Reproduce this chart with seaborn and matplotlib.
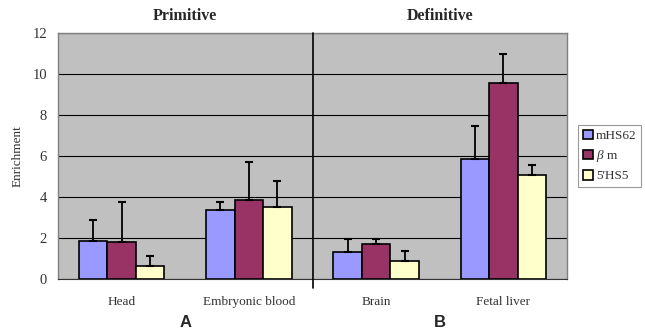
import numpy as np
import pandas as pd
import matplotlib
matplotlib.use("Agg")
import matplotlib.pyplot as plt
import seaborn as sns

tissues = ["Head", "Embryonic blood", "Brain", "Fetal liver"]
probes = ["mHS62", "$\\it{\u03b2}$ m", "5'HS5"]
means = {
    probes[0]: [1.87, 3.37, 1.33, 5.85],
    probes[1]: [1.83, 3.85, 1.69, 9.58],
    probes[2]: [0.65, 3.51, 0.88, 5.10],
}
upper = {
    probes[0]: [2.88, 3.74, 1.94, 7.46],
    probes[1]: [3.77, 5.69, 1.97, 11.00],
    probes[2]: [1.12, 4.80, 1.37, 5.57],
}
colors = ["#9999FF", "#993366", "#FFFFCC"]

rows = []
for p in probes:
    for t, v in zip(tissues, means[p]):
        rows.append({"tissue": t, "probe": p, "value": v})
df = pd.DataFrame(rows)

sns.set_style("white")
plt.rcParams["font.family"] = ["Liberation Serif", "DejaVu Serif"]
plt.rcParams["mathtext.fontset"] = "custom"
plt.rcParams["mathtext.it"] = "Liberation Serif:italic"

fig = plt.figure(figsize=(6.45, 3.35), dpi=100)
ax = fig.add_axes([0.09, 0.167, 0.789, 0.734])
ax.set_facecolor("#C0C0C0")

sns.barplot(data=df, x="tissue", y="value", hue="probe", order=tissues,
            hue_order=probes, palette=colors, errorbar=None, width=0.67,
            saturation=1, edgecolor="black", linewidth=1.2, ax=ax, zorder=3)

for cont, p in zip(ax.containers, probes):
    xs = [b.get_x() + b.get_width() / 2 for b in cont]
    vals = np.array(means[p])
    tops = np.array(upper[p])
    ax.errorbar(xs, vals, yerr=[np.zeros_like(vals), tops - vals], fmt="none",
                ecolor="black", elinewidth=1.3, capsize=3, capthick=1.5, zorder=4)

ax.set_ylim(0, 12)
ax.set_xlim(-0.5, 3.5)
ax.set_yticks(range(0, 13, 2))
ax.yaxis.grid(True, color="black", linewidth=0.8, zorder=0)
ax.set_axisbelow(True)
ax.tick_params(axis="y", length=0, labelsize=10.5, colors="#333333", pad=8)
ax.tick_params(axis="x", length=0, labelsize=9.5, colors="#333333", pad=12)
ax.set_xticks([0.5, 2.5], minor=True)
ax.tick_params(axis="x", which="minor", direction="in", length=3, color="#333333")
ax.set_xlabel("")
ax.set_ylabel("Enrichment", fontsize=9.5, color="#333333", labelpad=6)

for s in ["top", "right", "left"]:
    ax.spines[s].set_color("#808080")
    ax.spines[s].set_linewidth(1)
ax.spines["bottom"].set_color("#333333")

ax.plot([1.5, 1.5], [-0.45, 12], color="black", linewidth=1.2, clip_on=False, zorder=5)

ax.text(0.5, 12.45, "Primitive", ha="center", va="bottom", fontsize=11.5, fontweight="bold")
ax.text(2.5, 12.45, "Definitive", ha="center", va="bottom", fontsize=11.5, fontweight="bold")
ax.text(0.5, -1.75, "A", ha="center", va="top", fontsize=12, fontweight="bold",
        family=["Liberation Sans", "DejaVu Sans"])
ax.text(2.5, -1.75, "B", ha="center", va="top", fontsize=12, fontweight="bold",
        family=["Liberation Sans", "DejaVu Sans"])

leg = ax.legend(loc="center left", bbox_to_anchor=(1.022, 0.5), frameon=True,
                fontsize=9.5, handlelength=0.75, handleheight=0.75, handletextpad=0.25,
                borderpad=0.35, borderaxespad=0, labelspacing=0.45, fancybox=False,
                edgecolor="#808080")
leg.get_frame().set_linewidth(0.8)
for txt in leg.get_texts():
    txt.set_color("#333333")

fig.savefig("out.png", dpi=100)
